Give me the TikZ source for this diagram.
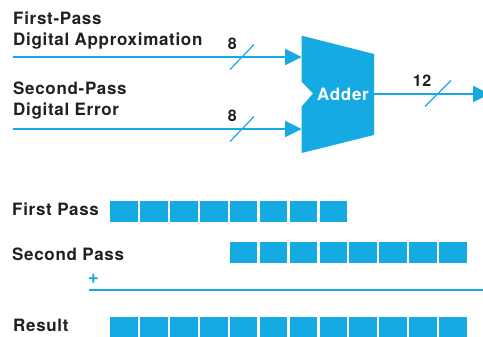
\documentclass[tikz,border=0pt]{standalone}
\usepackage{fontspec}
\setmainfont{TeX Gyre Heros}
\newfontfamily\lblfont[LetterSpace=4]{TeX Gyre Heros}
\usetikzlibrary{arrows.meta}
\definecolor{bitblue}{RGB}{22,170,226}
\definecolor{ink}{RGB}{35,31,32}
\tikzset{
  lbl/.style={anchor=base west, inner sep=0pt, text=ink, font=\lblfont\fontsize{17}{20}\selectfont\bfseries},
  num/.style={anchor=base, inner sep=0pt, text=ink, font=\lblfont\fontsize{16}{18}\selectfont\bfseries},
  wire/.style={draw=bitblue, line width=1.5pt, -{Triangle[length=16.5pt,width=16pt]}},
  slash/.style={draw=bitblue, line width=1.2pt},
  bit/.style={fill=bitblue, draw=none, minimum width=27.6pt, minimum height=21pt, inner sep=0pt, anchor=north west},
}
\begin{document}
\begin{tikzpicture}[x=1pt,y=-1pt]
\useasboundingbox (0,0) rectangle (483,337);

% --- adder block ---
\fill[bitblue] (301.7,35.7) -- (374,54) -- (374,135) -- (301.7,153)
  -- (301.7,106.5) -- (313,93.5) -- (301.7,81.7) -- cycle;
\node[anchor=base, inner sep=0pt, text=white, font=\lblfont\fontsize{17}{20}\selectfont\bfseries] (adder) at (343,100.5) {Adder};

% ports
\coordinate (in1) at (301.7,57);
\coordinate (in2) at (301.7,129);
\coordinate (outp) at (374,94);
\coordinate (src1) at (13,57);
\coordinate (src2) at (13,129);
\coordinate (dst) at (489.7,94);

% input labels
\node[lbl] (t1a) at (13,24.3) {First-Pass};
\node[lbl] (t1b) at (13,45.5) {Digital Approximation};
\node[lbl] (t2a) at (13,95) {Second-Pass};
\node[lbl] (t2b) at (13,116) {Digital Error};

% wires
\draw[wire] (src1) -- (in1);
\draw[wire] (src2) -- (in2);
\draw[wire] (outp) -- (dst);

% bus-width marks
\coordinate (s1) at (242,57);
\coordinate (s2) at (242,129);
\coordinate (s3) at (438,93.5);
\draw[slash] ([shift={(-12,12.5)}]s1) -- ([shift={(12,-12.5)}]s1);
\draw[slash] ([shift={(-12,12.5)}]s2) -- ([shift={(12,-12.5)}]s2);
\draw[slash] ([shift={(-13,13)}]s3) -- ([shift={(13,-13)}]s3);
\node[num] (w1) at (232.4,50) {8};
\node[num] (w2) at (232.4,122) {8};
\node[num] (w3) at (422,86.7) {12};

% --- bit alignment ---
\node[lbl] (r1) at (12,216) {First Pass};
\node[lbl] (r2) at (12,260.7) {Second Pass};
\node[lbl] (r3) at (13,331.7) {Result};

\foreach \i in {0,...,7}
  \node[bit] (fp\i) at (110+29.9*\i,201) {};
\foreach \i in {4,...,11}
  \node[bit] (sp\i) at (110+29.9*\i,241.5) {};
\foreach \i in {0,...,11}
  \node[bit] (rs\i) at (110+29.9*\i,317) {};

\node[anchor=center, inner sep=0pt, text=bitblue, font=\fontsize{19}{20}\selectfont\bfseries] (plus) at (93.3,278.5) {+};
\coordinate (sumL) at (89,290);
\coordinate (sumR) at (483,290);
\draw[bitblue, line width=1.4pt] (sumL) -- (sumR);
\end{tikzpicture}
\end{document}
